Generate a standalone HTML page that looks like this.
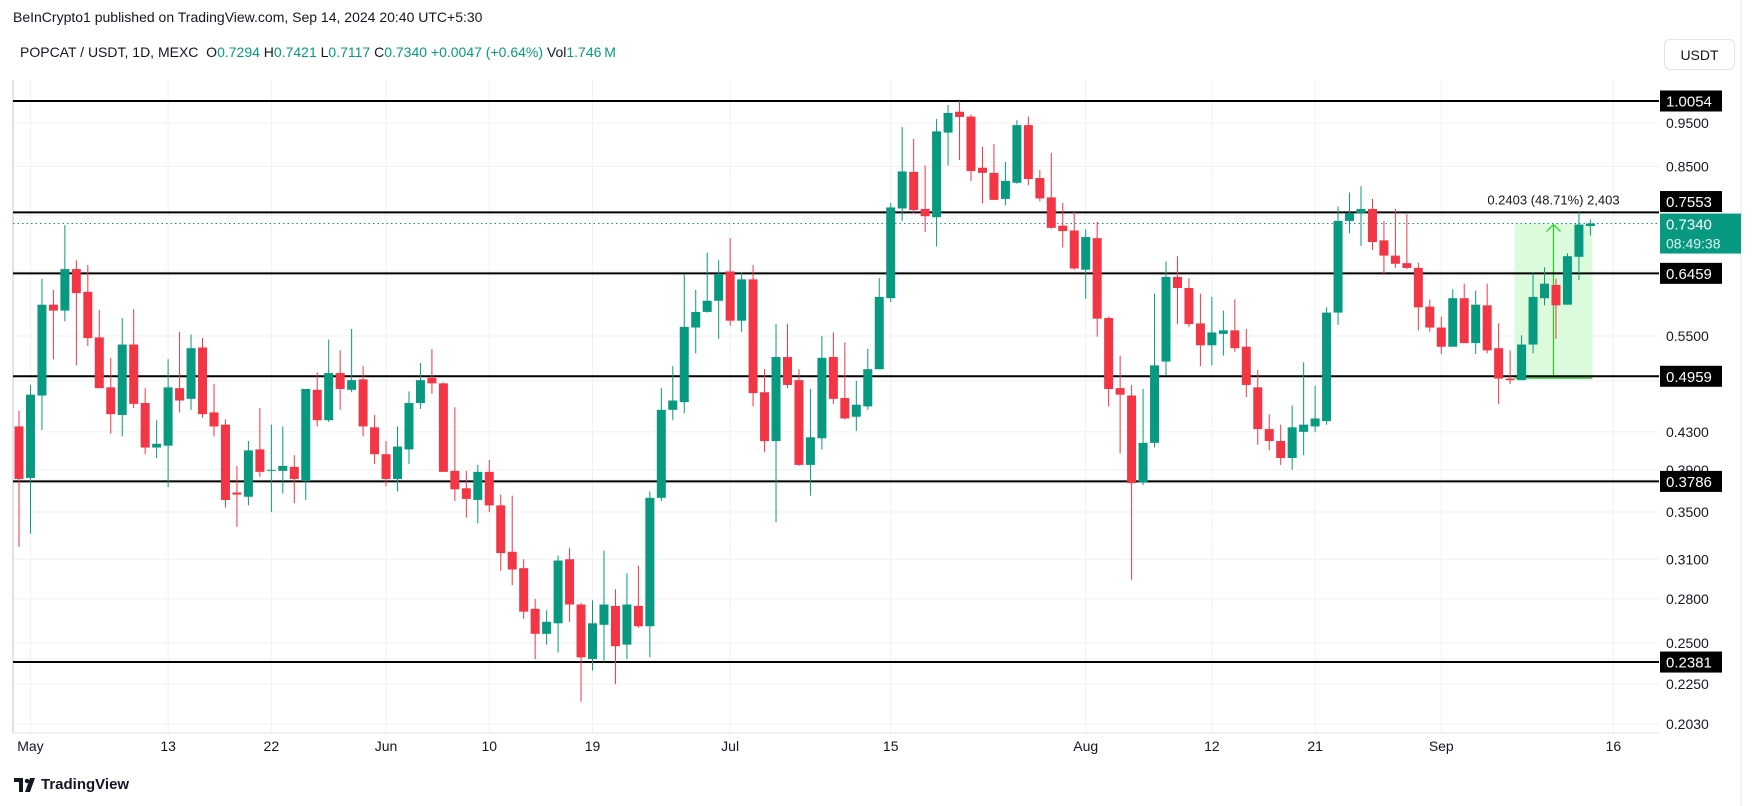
<!DOCTYPE html>
<html><head><meta charset="utf-8">
<style>
html,body{margin:0;padding:0;background:#fff;}
body{width:1754px;height:806px;overflow:hidden;position:relative;font-family:"Liberation Sans",sans-serif;color:#131722;}
#hdr1{position:absolute;left:13px;top:9px;font-size:14px;}
#hdr2{position:absolute;left:20px;top:44px;font-size:14px;white-space:nowrap;}
#hdr2 .v{color:#089981;}
#usdt{position:absolute;left:1664px;top:39px;width:71px;height:31px;border:1px solid #e0e3eb;border-radius:6px;font-size:14px;line-height:31px;text-align:center;box-sizing:border-box;}
#logo{position:absolute;left:14px;top:776px;font-size:15px;font-weight:bold;color:#131722;display:flex;align-items:center;gap:5px;}
svg{position:absolute;left:0;top:0;}
</style></head><body>
<div id="hdr1">BeInCrypto1 published on TradingView.com, Sep 14, 2024 20:40 UTC+5:30</div>
<div id="hdr2">POPCAT / USDT, 1D, MEXC&nbsp;&nbsp;O<span class="v">0.7294</span>&nbsp;H<span class="v">0.7421</span>&nbsp;L<span class="v">0.7117</span>&nbsp;C<span class="v">0.7340</span>&nbsp;<span class="v">+0.0047 (+0.64%)</span>&nbsp;Vol<span class="v">1.746&thinsp;M</span></div>
<div id="usdt">USDT</div>
<div id="logo"><svg width="22" height="14" style="position:static" viewBox="0 0 22 14"><path d="M0 0h9v14H5V4H0z M11 14l5-14h5l-5 14z" fill="#131722"/><circle cx="13" cy="3" r="2.2" fill="#131722"/></svg>TradingView</div>
<svg id="chart" width="1754" height="806"></svg>
<script>
const opens=[.436,.382,.472,.596,.587,.653,.616,.548,.482,.449,.538,.463,.413,.415,.481,.468,.534,.452,.438,.368,.364,.411,.389,.389,.393,.379,.479,.443,.500,.479,.492,.435,.406,.381,.411,.463,.494,.487,.389,.372,.361,.388,.356,.316,.303,.273,.256,.263,.310,.276,.240,.262,.275,.249,.275,.261,.363,.455,.464,.562,.585,.602,.649,.572,.636,.476,.420,.521,.491,.395,.423,.521,.469,.447,.459,.505,.606,.763,.838,.762,.746,.927,.978,.966,.847,.836,.782,.815,.945,.825,.785,.730,.721,.652,.707,.576,.481,.472,.378,.418,.515,.640,.622,.568,.537,.553,.558,.535,.482,.433,.420,.402,.430,.436,.442,.584,.739,.754,.762,.703,.676,.663,.655,.593,.562,.535,.606,.540,.595,.533,.493,.491,.538,.606,.627,.596,.674,.7294];
const highs=[.454,.485,.637,.619,.731,.668,.660,.588,.520,.576,.589,.481,.443,.518,.556,.552,.547,.486,.444,.394,.420,.457,.438,.436,.405,.480,.501,.545,.530,.560,.509,.449,.420,.436,.477,.513,.532,.488,.458,.389,.395,.400,.366,.365,.310,.280,.272,.313,.319,.277,.279,.317,.287,.299,.305,.369,.481,.509,.645,.619,.681,.668,.707,.647,.660,.505,.567,.567,.505,.480,.550,.555,.541,.490,.532,.638,.774,.940,.912,.852,.960,.995,1.005,.971,.894,.900,.860,.957,.966,.842,.880,.774,.756,.723,.737,.578,.523,.485,.480,.613,.666,.675,.638,.613,.608,.587,.604,.560,.504,.450,.438,.460,.514,.484,.592,.767,.795,.808,.782,.739,.762,.752,.664,.604,.578,.620,.629,.618,.629,.568,.530,.551,.646,.656,.637,.680,.758,.7421];
const lows=[.320,.331,.432,.518,.571,.510,.536,.481,.428,.425,.457,.406,.402,.373,.452,.455,.446,.425,.354,.337,.356,.383,.350,.367,.358,.361,.436,.441,.455,.476,.425,.396,.374,.369,.396,.456,.474,.388,.360,.345,.340,.350,.301,.290,.266,.240,.249,.244,.264,.215,.233,.238,.225,.240,.260,.241,.360,.443,.451,.526,.584,.546,.565,.556,.459,.408,.341,.481,.394,.365,.411,.462,.444,.431,.455,.505,.600,.739,.753,.718,.692,.852,.864,.819,.773,.780,.769,.813,.810,.777,.724,.690,.652,.605,.549,.459,.407,.294,.375,.413,.497,.567,.563,.509,.510,.523,.528,.470,.416,.410,.395,.390,.405,.430,.438,.566,.716,.693,.686,.643,.655,.653,.558,.556,.525,.535,.540,.525,.526,.462,.486,.491,.526,.595,.546,.596,.635,.7117];
const closes=[.381,.473,.596,.587,.653,.614,.547,.481,.450,.538,.462,.413,.417,.482,.466,.533,.450,.436,.361,.366,.410,.388,.390,.394,.381,.480,.443,.500,.480,.491,.436,.406,.381,.414,.463,.491,.487,.388,.371,.362,.388,.356,.315,.302,.271,.256,.264,.309,.276,.241,.263,.276,.248,.276,.261,.363,.455,.466,.563,.585,.602,.645,.572,.636,.475,.420,.521,.485,.395,.424,.520,.468,.445,.461,.505,.608,.765,.839,.760,.748,.930,.975,.965,.840,.836,.780,.819,.945,.823,.783,.726,.720,.654,.709,.575,.480,.473,.377,.418,.510,.640,.622,.567,.537,.555,.558,.533,.485,.433,.420,.402,.435,.438,.445,.584,.739,.754,.762,.700,.676,.662,.655,.592,.562,.535,.606,.540,.596,.530,.493,.491,.538,.608,.629,.595,.675,.732,.7340];
const levels=[1.0054,0.7553,0.6459,0.4959,0.3786,0.2381];
const levelLabels=["1.0054","0.7553","0.6459","0.4959","0.3786","0.2381"];
const tickValues=[0.95,0.85,0.55,0.43,0.39,0.35,0.31,0.28,0.25,0.225,0.203];
const tickLabels=["0.9500","0.8500","0.5500","0.4300","0.3900","0.3500","0.3100","0.2800","0.2500","0.2250","0.2030"];
const hiddenGrid=[0.75,0.65,0.49,0.38,0.24];
const dateLabels=["May","13","22","Jun","10","19","Jul","15","Aug","12","21","Sep","16"];
const dateDays=[1,13,22,32,41,50,62,76,93,104,113,124,139];
const lastPrice=0.7340, measLow=0.4937, measStartIdx=131, measEndIdx=137;

const NS="http://www.w3.org/2000/svg";
const svg=document.getElementById('chart');
const PL=13, PR=1659;
function yS(p){return 101+389.5*Math.log(1.0054/p);}
function xS(i){return 19+11.47*i;}
function mk(tag,at,parent){const e=document.createElementNS(NS,tag);for(const k in at)e.setAttribute(k,at[k]);(parent||svg).appendChild(e);return e;}

[...tickValues,...hiddenGrid].forEach(v=>{
  const g=mk('line',{x1:PL,x2:PR,y1:yS(v),y2:yS(v),stroke:'#f0f1f4','stroke-width':1});
  
  
});
dateDays.forEach(d=>{
  const g=mk('line',{x1:xS(d),x2:xS(d),y1:80,y2:733,stroke:'#f0f1f4','stroke-width':1});
  
  
});
mk('line',{x1:PL,x2:PL,y1:80,y2:733,stroke:'#e0e3eb','stroke-width':2});
mk('line',{x1:PL,x2:PR,y1:733,y2:733,stroke:'#e0e3eb','stroke-width':1});
mk('line',{x1:1741,x2:1741,y1:0,y2:806,stroke:'#e0e3eb','stroke-width':1});

const mx1=xS(measStartIdx)-7, mx2=xS(measEndIdx)+2, my1=yS(lastPrice), my2=yS(measLow);
const mb=mk('rect',{x:mx1,y:my1,width:mx2-mx1,height:my2-my1,fill:'#dcfadc'});


const mcx=(mx1+mx2)/2;
mk('line',{x1:mcx,x2:mcx,y1:my1+1,y2:my2,stroke:'#22d022','stroke-width':1.2});
mk('polyline',{points:`${mcx-7},${my1+8} ${mcx},${my1+1} ${mcx+7},${my1+8}`,fill:'none',stroke:'#22d022','stroke-width':1.2});
mk('line',{x1:mx1,x2:mx2,y1:my2,y2:my2,stroke:'#22d022','stroke-width':1.5});
const mt=mk('text',{x:mcx,y:my1-19,'text-anchor':'middle','font-size':13,fill:'#131722','font-family':'Liberation Sans, sans-serif'});
mt.textContent=(lastPrice-measLow).toFixed(4)+' (48.71%) 2,403';



levels.forEach((v,i)=>{
  const l=mk('line',{x1:PL,x2:PR,y1:yS(v),y2:yS(v),stroke:'#000','stroke-width':2});
  
  
});
mk('line',{x1:PL,x2:PR,y1:yS(lastPrice),y2:yS(lastPrice),stroke:'#089981','stroke-width':1,'stroke-dasharray':'1.5,3'});

for(let i=0;i<opens.length;i++){
  const up=closes[i]>=opens[i];
  const col=up?'#089981':'#f23645';
  const x=xS(i);
  const g=mk('g',{});
  
  
  mk('line',{x1:x,x2:x,y1:yS(highs[i]),y2:yS(lows[i]),stroke:col,'stroke-width':1},g);
  const t=yS(Math.max(opens[i],closes[i])), b=yS(Math.min(opens[i],closes[i]));
  mk('rect',{x:x-4.5,y:t,width:9,height:Math.max(1,b-t),fill:col},g);
}

tickValues.forEach((v,i)=>{
  const t=mk('text',{x:1666,y:yS(v)+5,'font-size':14,fill:'#131722','font-family':'Liberation Sans, sans-serif'});
  t.textContent=tickLabels[i];
  
  
});
const cy=yS(lastPrice);
const cr=mk('rect',{x:1660,y:cy-10,width:81,height:40,fill:'#089981'});


const ct=mk('text',{x:1666,y:cy+6,'font-size':15,fill:'#fff','font-family':'Liberation Sans, sans-serif'});
ct.textContent=lastPrice.toFixed(4);


const cd=mk('text',{x:1666,y:cy+25,'font-size':14,fill:'#d8f3ec','font-family':'Liberation Sans, sans-serif'});
cd.textContent='08:49:38';



levels.forEach((v,i)=>{
  let y=yS(v);
  if(y>cy-32 && y<cy+32) y=Math.min(y,cy-22);
  const r=mk('rect',{x:1660,y:y-10.5,width:62,height:21,fill:'#000'});
  
  
  const t=mk('text',{x:1666,y:y+5.5,'font-size':15,fill:'#fff','font-family':'Liberation Sans, sans-serif'});
  t.textContent=levelLabels[i];
  
  
});

dateLabels.forEach((s,i)=>{
  const t=mk('text',{x:xS(dateDays[i]),y:751,'text-anchor':'middle','font-size':14,fill:'#131722','font-family':'Liberation Sans, sans-serif'});
  t.textContent=s;
  
  
});
</script>
</body></html>
